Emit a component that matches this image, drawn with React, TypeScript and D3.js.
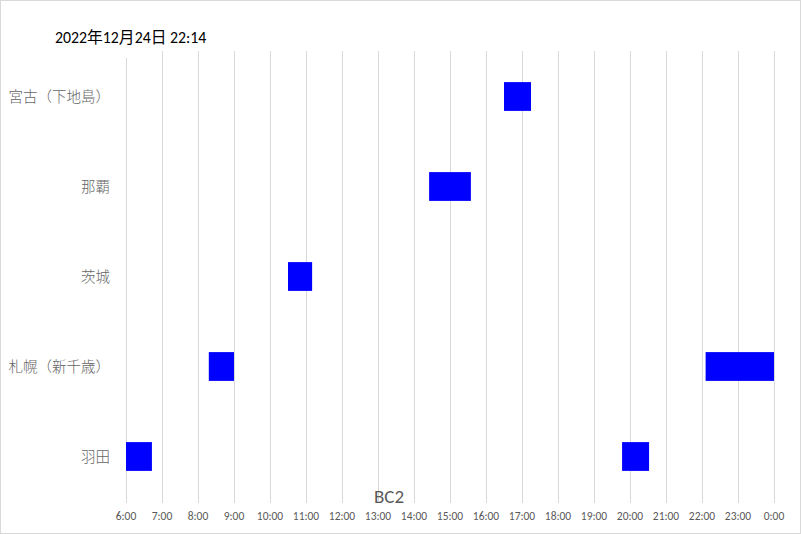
import React from "react";
import * as d3 from "d3";

const categories = ["宮古（下地島）", "那覇", "茨城", "札幌（新千歳）", "羽田"];
// bars: category, start hour, end hour (hours since midnight; 24 = 0:00 next day)
const barCats = ["宮古（下地島）", "那覇", "茨城", "札幌（新千歳）", "札幌（新千歳）", "羽田", "羽田"];
const barStarts = [16.5, 14.42, 10.5, 8.3, 22.1, 6.0, 19.78];
const barEnds = [17.25, 15.58, 11.17, 9.0, 24.0, 6.72, 20.53];
const tickHours = [6, 7, 8, 9, 10, 11, 12, 13, 14, 15, 16, 17, 18, 19, 20, 21, 22, 23, 24];
const titleText = "2022年12月24日 22:14";
const axisTitle = "BC2";

const W = 801;
const H = 534;
const latin = "Calibri, Carlito, 'Liberation Sans', 'Noto Sans CJK JP', sans-serif";
const cjk = "'Noto Sans CJK JP', sans-serif";

export default function App() {
  const x = d3.scaleLinear().domain([6, 24]).range([126, 774]);
  const y = d3.scaleBand<string>().domain(categories).range([51.5, 501.5]).paddingInner(0.68).paddingOuter(0.34);
  const fmt = (h: number) => `${h % 24}:00`;
  return (
    <div style={{ position: "absolute", left: 0, top: 0 }}>
      <svg width={W} height={H} style={{ display: "block" }}>
        <rect x={0.5} y={0.5} width={W - 1} height={H - 1} fill="#fff" stroke="#d9d9d9" />
        {tickHours.map((h, i) => (
          <line
            key={"g" + h}
            x1={Math.round(x(h)) + 0.5}
            x2={Math.round(x(h)) + 0.5}
            y1={i === 0 ? 58 : 51}
            y2={503}
            stroke="#d9d9d9"
            strokeWidth={1}
          />
        ))}
        {barCats.map((c, i) => (
          <rect
            key={"b" + i}
            x={x(barStarts[i])}
            y={y(c)!}
            width={x(barEnds[i]) - x(barStarts[i])}
            height={y.bandwidth()}
            fill="#0000ff"
          />
        ))}
        {categories.map((c) => (
          <text
            key={"c" + c}
            x={110}
            y={y(c)! + y.bandwidth() / 2}
            dy="0.35em"
            textAnchor="end"
            fontFamily={cjk}
            fontSize={14.5}
            fontWeight={300}
            fill="#666666"
          >
            {c}
          </text>
        ))}
        {tickHours.map((h) => (
          <text
            key={"t" + h}
            x={x(h)}
            y={520}
            textAnchor="middle"
            fontFamily={latin}
            fontSize={11.5}
            fill="#595959"
          >
            {fmt(h)}
          </text>
        ))}
        <text x={389} y={503} textAnchor="middle" fontFamily={latin} fontSize={19} fill="#595959">
          {axisTitle}
        </text>
        <text x={55} y={43} fontFamily={"Calibri, Carlito, 'Noto Sans CJK JP', sans-serif"} fontSize={15.8} fill="#000">
          {titleText}
        </text>
      </svg>
    </div>
  );
}
